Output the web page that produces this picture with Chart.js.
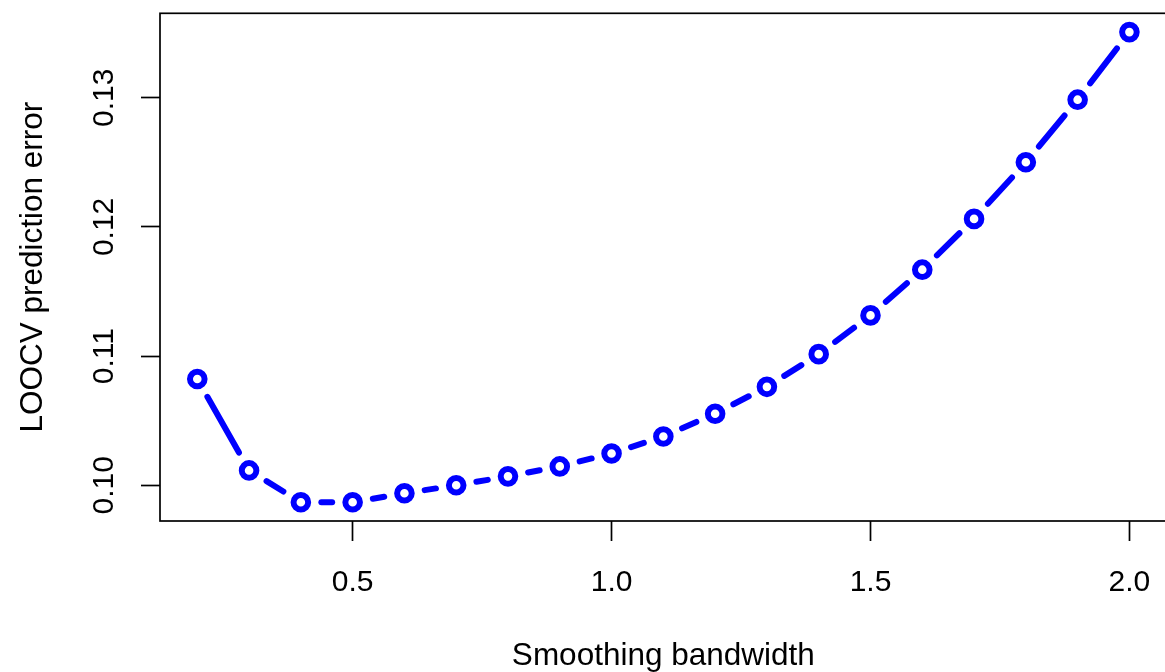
<!DOCTYPE html>
<html>
<head>
<meta charset="utf-8">
<script src="https://cdn.jsdelivr.net/npm/chart.js@4/dist/chart.umd.min.js"></script>
<style>
  html, body { margin: 0; padding: 0; background: #ffffff; overflow: hidden; }
  canvas { display: block; }
</style>
</head>
<body>
<canvas id="cv" width="1180" height="672"></canvas>
<script>
// Leave-one-out CV error against smoothing bandwidth
const bandwidth = [0.2, 0.3, 0.4, 0.5, 0.6, 0.7, 0.8, 0.9, 1.0, 1.1,
                   1.2, 1.3, 1.4, 1.5, 1.6, 1.7, 1.8, 1.9, 2.0];
const loocvError = [0.10823, 0.10115, 0.09869, 0.09869, 0.09938, 0.10000,
                    0.10069, 0.10146, 0.10246, 0.10377, 0.10554, 0.10762,
                    0.11015, 0.11315, 0.11669, 0.12062, 0.12500, 0.12985, 0.13508];

const xTickValues = [0.5, 1.0, 1.5, 2.0];
const xTickLabels = ['0.5', '1.0', '1.5', '2.0'];
const yTickValues = [0.10, 0.11, 0.12, 0.13];
const yTickLabels = ['0.10', '0.11', '0.12', '0.13'];

const BLUE = '#0000ff';
const FAMILY = '"Liberation Sans", Arial, Helvetica, sans-serif';
const TICK_FONT = { family: FAMILY, size: 30, lineHeight: 1.2 };
const TITLE_FONT = { family: FAMILY, size: 31.5, lineHeight: 1.0 };

// 4% padding on each side of the data range
function paddedRange(values) {
  const lo = Math.min(...values), hi = Math.max(...values);
  const pad = (hi - lo) * 0.04;
  return [lo - pad, hi + pad];
}
const [xMin, xMax] = paddedRange(bandwidth);
const [yMin, yMax] = paddedRange(loocvError);

// Connecting segments that stop short of each point marker
const gappedLines = {
  id: 'gappedLines',
  beforeDatasetsDraw(chart) {
    const pts = chart.getDatasetMeta(0).data;
    const ctx = chart.ctx;
    const gap = 20.5;
    ctx.save();
    ctx.strokeStyle = BLUE;
    ctx.lineWidth = 6;
    ctx.lineCap = 'round';
    for (let i = 0; i < pts.length - 1; i++) {
      const a = pts[i], b = pts[i + 1];
      const dx = b.x - a.x, dy = b.y - a.y;
      const d = Math.hypot(dx, dy);
      if (d <= 2 * gap) continue;
      const ux = dx / d, uy = dy / d;
      ctx.beginPath();
      ctx.moveTo(a.x + ux * gap, a.y + uy * gap);
      ctx.lineTo(b.x - ux * gap, b.y - uy * gap);
      ctx.stroke();
    }
    ctx.restore();
  }
};

// Frame around the plotting region
const plotFrame = {
  id: 'plotFrame',
  afterDraw(chart) {
    const { ctx, chartArea: a } = chart;
    ctx.save();
    ctx.strokeStyle = '#000000';
    ctx.lineWidth = 1.7;
    ctx.strokeRect(a.left, a.top, a.right - a.left, a.bottom - a.top);
    ctx.restore();
  }
};

new Chart(document.getElementById('cv'), {
  type: 'scatter',
  data: {
    datasets: [{
      data: bandwidth.map((x, i) => ({ x: x, y: loocvError[i] })),
      showLine: false,
      pointStyle: 'circle',
      pointRadius: 7.3,
      pointBorderWidth: 6,
      pointBorderColor: BLUE,
      pointBackgroundColor: '#ffffff'
    }]
  },
  options: {
    responsive: false,
    devicePixelRatio: 1,
    animation: false,
    layout: { padding: { left: 0, top: 11, right: 9, bottom: 0 } },
    plugins: { legend: { display: false }, tooltip: { enabled: false } },
    scales: {
      x: {
        type: 'linear',
        min: xMin,
        max: xMax,
        afterBuildTicks: s => { s.ticks = xTickValues.map(v => ({ value: v })); },
        afterFit: s => { s.height = 151; s.paddingLeft = 0; s.paddingRight = 0; },
        grid: { display: true, drawOnChartArea: false, drawTicks: true, tickLength: 20,
                tickColor: '#000000', tickWidth: 1.7 },
        border: { display: false },
        ticks: {
          color: '#000000', font: TICK_FONT, padding: 24, maxRotation: 0, autoSkip: false,
          callback: v => { const k = xTickValues.indexOf(v); return k >= 0 ? xTickLabels[k] : ''; }
        },
        title: { display: true, text: 'Smoothing bandwidth', color: '#000000',
                 font: TITLE_FONT, padding: { top: 0, bottom: 0 } }
      },
      y: {
        type: 'linear',
        min: yMin,
        max: yMax,
        afterBuildTicks: s => { s.ticks = yTickValues.map(v => ({ value: v })); },
        afterFit: s => { s.width = 160; s.paddingTop = 0; s.paddingBottom = 0; },
        grid: { display: true, drawOnChartArea: false, drawTicks: true, tickLength: 19,
                tickColor: '#000000', tickWidth: 1.7 },
        border: { display: false },
        ticks: {
          color: '#000000', font: TICK_FONT, padding: 7, minRotation: 90, maxRotation: 90,
          crossAlign: 'center', autoSkip: false,
          callback: v => {
            const k = yTickValues.findIndex(t => Math.abs(t - v) < 1e-9);
            return k >= 0 ? yTickLabels[k] : '';
          }
        },
        title: { display: true, text: 'LOOCV prediction error', color: '#000000',
                 font: TITLE_FONT, padding: { top: 17.5, bottom: 0 } }
      }
    }
  },
  plugins: [gappedLines, plotFrame]
});
</script>
</body>
</html>
